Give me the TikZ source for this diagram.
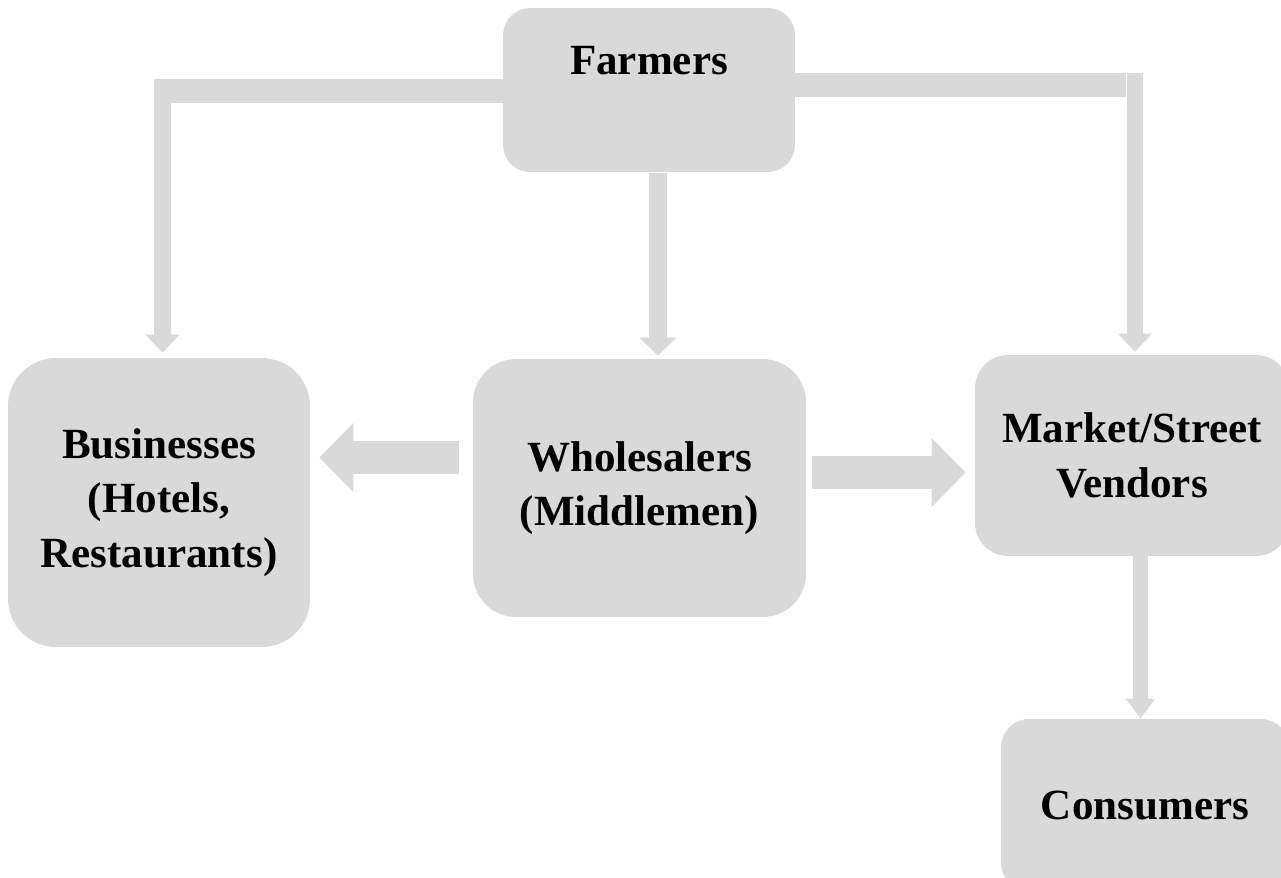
\documentclass[tikz,border=0pt]{standalone}
\usepackage{fontspec}
\setmainfont{Liberation Serif}
\usetikzlibrary{arrows.meta}
\definecolor{boxgray}{HTML}{D9D9D9}
\tikzset{
	boxtext/.style={font=\bfseries\fontsize{24.5}{31}\selectfont, align=center},
	box/.style={boxtext, fill=boxgray, inner sep=0pt},
	bar/.style={draw=boxgray, line width=0.48cm},
	drop/.style={draw=boxgray, line width=0.34cm, -{Triangle[width=0.66cm, length=0.36cm]}},
	block/.style={draw=boxgray, line width=0.66cm, -{Triangle[width=1.34cm, length=0.68cm]}}
}
\begin{document}
\begin{tikzpicture}[x=0.02cm, y=-0.02cm]
	\clip (0,0) rectangle (1281,877);
	\node[box, minimum width=5.84cm, minimum height=3.28cm, rounded corners=0.54cm] (farmers) at (649,90) {};
	\node[boxtext] (farmerslabel) at (649,61) {Farmers};
	\node[box, minimum width=6.04cm, minimum height=5.78cm, rounded corners=0.96cm] (businesses) at (159,502.5) {Businesses\\(Hotels,\\Restaurants)};
	\node[box, minimum width=6.66cm, minimum height=5.16cm, rounded corners=0.86cm] (wholesalers) at (639.5,488) {Wholesalers\\(Middlemen)};
	\node[box, minimum width=6.28cm, minimum height=4.02cm, rounded corners=0.66cm] (vendors) at (1132,455.5) {Market/Street\\Vendors};
	\node[box, minimum width=5.76cm, minimum height=3.44cm, rounded corners=0.56cm] (consumers) at (1145,805) {Consumers};

	\coordinate (lbend) at (162.5,91);
	\coordinate (rbend) at (1135,85);
	\coordinate (cdrop) at (658,0);
	\coordinate (lblock) at (0,457.5);
	\coordinate (rblock) at (0,472.5);

	\draw[bar] (farmers.west |- lbend) -- ([xshift=-0.17cm]lbend);
	\draw[drop, shorten >=0.1cm] ([yshift=0.24cm]lbend) -- (lbend |- businesses.north);
	\draw[bar] (farmers.east |- rbend) -- ([xshift=-0.18cm]rbend);
	\draw[drop, line width=0.32cm, shorten >=0.06cm] ([yshift=0.24cm]rbend) -- (rbend |- vendors.north);
	\draw[drop, line width=0.36cm, -{Triangle[width=0.72cm, length=0.36cm]}, shorten <=0.02cm, shorten >=0.06cm] (farmers.south -| cdrop) -- (wholesalers.north -| cdrop);
	\draw[drop, line width=0.30cm, -{Triangle[width=0.56cm, length=0.4cm]}] ([xshift=0.17cm]vendors.south) -- ([xshift=0.17cm]vendors.south |- consumers.north);

	\draw[block, shorten <=0.28cm, shorten >=0.18cm] (wholesalers.west |- lblock) -- (businesses.east |- lblock);
	\draw[block, shorten <=0.12cm, shorten >=0.18cm] (wholesalers.east |- rblock) -- (vendors.west |- rblock);
\end{tikzpicture}
\end{document}
